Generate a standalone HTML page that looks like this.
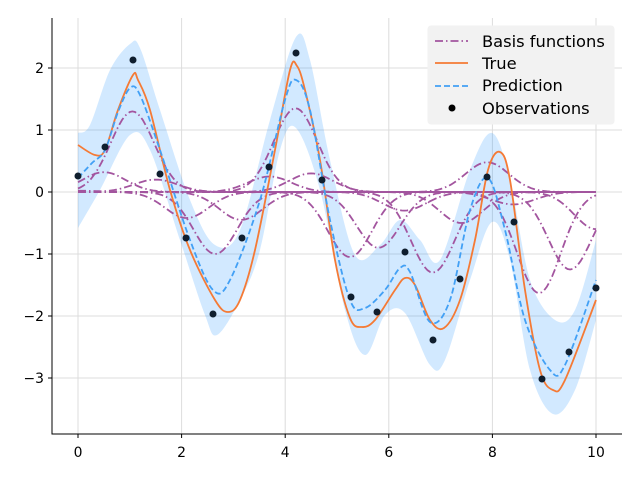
<!DOCTYPE html>
<html><head><meta charset="utf-8"><style>
body{margin:0;background:#fff}
svg text{font-family:"DejaVu Sans","Liberation Sans",sans-serif;font-size:13.9px;fill:#000}
svg .lg{font-size:16.3px}
</style></head><body>
<svg id="s" width="640" height="480" xmlns="http://www.w3.org/2000/svg">
<g stroke="#dcdcdc" stroke-width="1">
<line x1="78" y1="18" x2="78" y2="434"/><line x1="181.6" y1="18" x2="181.6" y2="434"/><line x1="285.2" y1="18" x2="285.2" y2="434"/><line x1="388.8" y1="18" x2="388.8" y2="434"/><line x1="492.4" y1="18" x2="492.4" y2="434"/><line x1="596" y1="18" x2="596" y2="434"/>
<line x1="52" y1="68" x2="622" y2="68"/><line x1="52" y1="130" x2="622" y2="130"/><line x1="52" y1="192" x2="622" y2="192"/><line x1="52" y1="254" x2="622" y2="254"/><line x1="52" y1="316" x2="622" y2="316"/><line x1="52" y1="378" x2="622" y2="378"/>
</g>
<path id="band" fill="#1f8fff" fill-opacity="0.2" stroke="none"/>
<g id="basis" fill="none" stroke="#a3559f" stroke-width="1.8" stroke-dasharray="8,3,1.5,3"></g>
<path id="tru" fill="none" stroke="#f57a35" stroke-width="1.8"/>
<path id="pred" fill="none" stroke="#42a0f5" stroke-width="1.8" stroke-dasharray="6,3"/>
<g id="obs" fill="#0f1e2e"></g>
<g stroke="#000" stroke-width="1">
<line x1="52" y1="18" x2="52" y2="434.5"/><line x1="51.5" y1="434" x2="622" y2="434"/>
<line x1="78" y1="434" x2="78" y2="438"/><line x1="181.6" y1="434" x2="181.6" y2="438"/><line x1="285.2" y1="434" x2="285.2" y2="438"/><line x1="388.8" y1="434" x2="388.8" y2="438"/><line x1="492.4" y1="434" x2="492.4" y2="438"/><line x1="596" y1="434" x2="596" y2="438"/>
<line x1="48" y1="68" x2="52" y2="68"/><line x1="48" y1="130" x2="52" y2="130"/><line x1="48" y1="192" x2="52" y2="192"/><line x1="48" y1="254" x2="52" y2="254"/><line x1="48" y1="316" x2="52" y2="316"/><line x1="48" y1="378" x2="52" y2="378"/>
</g>
<g text-anchor="middle">
<text x="78" y="457">0</text><text x="181.6" y="457">2</text><text x="285.2" y="457">4</text><text x="388.8" y="457">6</text><text x="492.4" y="457">8</text><text x="596" y="457">10</text>
</g>
<g text-anchor="end">
<text x="44" y="73">2</text><text x="44" y="135">1</text><text x="44" y="197">0</text><text x="44" y="259">−1</text><text x="44" y="321">−2</text><text x="44" y="383">−3</text>
</g>
<rect x="428" y="26" width="186" height="98" rx="3" fill="#f2f2f2" stroke="#f2f2f2"/>
<line x1="435" y1="41" x2="468" y2="41" stroke="#a3559f" stroke-width="1.8" stroke-dasharray="8,3,1.5,3"/>
<line x1="435" y1="63" x2="468" y2="63" stroke="#f57a35" stroke-width="1.8"/>
<line x1="435" y1="86" x2="468" y2="86" stroke="#42a0f5" stroke-width="1.8" stroke-dasharray="6,3"/>
<circle cx="452" cy="108" r="3.5" fill="#000"/>
<text class="lg" x="482" y="47">Basis functions</text>
<text class="lg" x="482" y="69">True</text>
<text class="lg" x="482" y="91">Prediction</text>
<text class="lg" x="482" y="114">Observations</text>
</svg>
<script>
function cr(p){var d="M"+p[0][0]+","+p[0][1];for(var i=0;i<p.length-1;i++){var a=p[i-1]||p[i],b=p[i],c=p[i+1],e=p[i+2]||c;d+=" C"+(b[0]+(c[0]-a[0])/6)+","+(b[1]+(c[1]-a[1])/6)+" "+(c[0]-(e[0]-b[0])/6)+","+(c[1]-(e[1]-b[1])/6)+" "+c[0]+","+c[1];}return d;}
var pred=[[78,178],[92,163],[105,150],[118,112],[130,88],[140,95],[160,150],[190,240],[213,290],[230,280],[260,200],[285,100],[296,80],[310,110],[330,220],[350,300],[365,308],[385,290],[400,268],[410,272],[430,322],[450,300],[470,210],[488,178],[505,230],[525,320],[550,370],[565,365],[596,280]];
var tru=[[78,145],[95,155],[105,150],[118,110],[133,75],[138,80],[150,110],[170,190],[190,250],[215,300],[228,312],[240,300],[255,250],[275,150],[290,70],[297,66],[305,90],[320,160],[335,260],[350,318],[362,327],[375,320],[395,290],[405,278],[415,285],[430,320],[444,328],[460,300],[475,240],[488,170],[500,152],[510,180],[525,290],[540,370],[553,390],[565,380],[596,300]];
var up=[[78,133],[90,125],[110,70],[130,44],[140,48],[160,110],[190,200],[215,245],[240,230],[270,120],[296,37],[310,60],[330,160],[355,255],[380,245],[400,220],[420,240],[440,260],[470,170],[492,133],[510,180],[530,280],[555,320],[575,310],[596,240]];
var lo=[[78,228],[100,190],[130,135],[150,150],[180,240],[205,315],[217,335],[240,300],[260,250],[280,150],[296,128],[320,190],[345,310],[365,355],[385,315],[405,313],[430,365],[445,360],[470,280],[492,222],[510,260],[530,370],[553,414],[575,390],[596,320]];
document.getElementById("pred").setAttribute("d",cr(pred));
document.getElementById("tru").setAttribute("d",cr(tru));
var lr=lo.slice().reverse();var d=cr(up)+" L"+lr[0][0]+","+lr[0][1]+cr(lr).slice(cr(lr).indexOf("C")-1)+"Z";
document.getElementById("band").setAttribute("d",d);
var B=[[0,0.02],[0.5,0.32],[1.05,1.3],[1.5,0.2],[2.1,-0.42],[2.65,-1.0],[3.15,-0.45],[3.7,0.25],[4.2,1.35],[4.5,0.3],[5.25,-1.05],[5.8,-0.9],[6.3,-0.3],[6.85,-1.3],[7.4,-0.5],[7.9,0.48],[8.4,-0.2],[8.9,-1.63],[9.5,-1.25],[10,-0.6]];
var g=document.getElementById("basis"),h="";
B.forEach(function(b){var s="";for(var x=0;x<=10.001;x+=0.05){var y=b[1]*Math.exp(-Math.pow(x-b[0],2)/(2*0.42*0.42));s+=(s?" L":"M")+(78+51.8*x).toFixed(1)+","+(192-62*y).toFixed(1);}h+='<path d="'+s+'"/>';});
g.innerHTML=h;
var O=[[78,176],[105,147],[133,60],[160,174],[186,238],[213,314],[242,238],[269,167],[296,53],[322,180],[351,297],[377,312],[405,252],[433,340],[460,279],[487,177],[514,222],[542,379],[569,352],[596,288]];
document.getElementById("obs").innerHTML=O.map(function(p){return '<circle cx="'+p[0]+'" cy="'+p[1]+'" r="3.5"/>';}).join("");
</script>
</body></html>
